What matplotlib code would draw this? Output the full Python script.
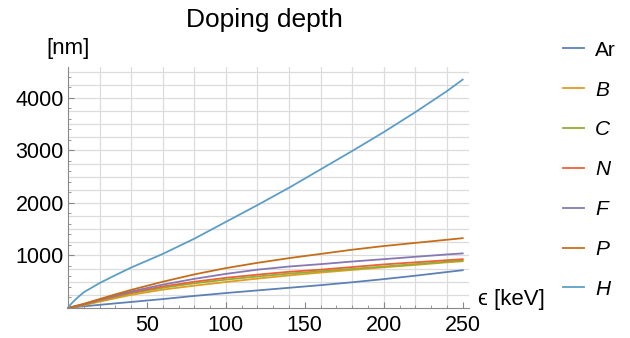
import matplotlib.pyplot as plt
from matplotlib.ticker import MultipleLocator

plt.rcParams['font.family'] = ['Liberation Sans', 'DejaVu Sans']

energy = [0, 2, 5, 10, 20, 30, 40, 60, 80, 100, 120, 140, 160, 180, 200, 220, 240, 250]

# doping depth in nm for each ion
depth_Ar = [0, 8, 18, 32, 60, 88, 115, 170, 230, 285, 335, 385, 435, 490, 550, 615, 685, 720]
depth_B = [0, 10, 26, 52, 120, 185, 250, 350, 425, 495, 560, 620, 675, 725, 775, 820, 870, 890]
depth_C = [0, 12, 31, 62, 140, 210, 280, 385, 470, 540, 600, 655, 700, 745, 790, 835, 880, 905]
depth_N = [0, 13, 33, 66, 150, 225, 295, 410, 500, 575, 635, 690, 730, 780, 830, 870, 910, 930]
depth_F = [0, 14, 36, 72, 160, 240, 315, 445, 555, 650, 730, 790, 835, 885, 930, 975, 1020, 1040]
depth_P = [0, 15, 40, 80, 170, 260, 345, 500, 640, 760, 860, 950, 1030, 1110, 1180, 1240, 1300, 1330]
depth_H = [0, 80, 170, 300, 475, 625, 770, 1030, 1320, 1640, 1960, 2290, 2640, 2990, 3350, 3730, 4130, 4350]

labels = ['Ar', 'B', 'C', 'N', 'F', 'P', 'H']
series = [depth_Ar, depth_B, depth_C, depth_N, depth_F, depth_P, depth_H]
colors = ['#5E81B5', '#E19C24', '#8FB032', '#EB6235', '#8778B3', '#C56E1A', '#5D9EC7']

fig = plt.figure(figsize=(6.3, 3.38), dpi=100)
ax = fig.add_axes([68 / 630, 30 / 338, 401 / 630, 241 / 338])

for ys, lab, c in zip(series, labels, colors):
    ax.plot(energy, ys, color=c, lw=1.3, label=lab, clip_on=False)

ax.set_xlim(0, 254)
ax.set_ylim(0, 4590)

# grid lines like Mathematica's GridLines
for gx in range(20, 260, 20):
    ax.axvline(gx, color='#dcdcdc', lw=0.9, zorder=0)
for gy in range(250, 4750, 250):
    ax.axhline(gy, color='#dcdcdc', lw=0.9, zorder=0)

ax.xaxis.set_major_locator(MultipleLocator(50))
ax.xaxis.set_minor_locator(MultipleLocator(10))
ax.yaxis.set_major_locator(MultipleLocator(1000))
ax.yaxis.set_minor_locator(MultipleLocator(200))
ax.set_xticks([50, 100, 150, 200, 250])
ax.set_yticks([1000, 2000, 3000, 4000])
ax.tick_params(which='both', direction='in', color='#888888', labelsize=15.5)
ax.tick_params(which='major', length=4, width=0.8)
ax.tick_params(which='minor', length=2.5, width=0.6)
ax.tick_params(axis='x', pad=5)
ax.tick_params(axis='y', pad=3)

for s in ['top', 'right']:
    ax.spines[s].set_visible(False)
for s in ['left', 'bottom']:
    ax.spines[s].set_color('#888888')
    ax.spines[s].set_linewidth(0.8)

ax.text(0, 1.075, '[nm]', transform=ax.transAxes, ha='center', va='center', fontsize=16)
ax.text(1.022, 0.035, 'ϵ [keV]', transform=ax.transAxes, ha='left', va='center', fontsize=16)
fig.text(264 / 630, 1 - 27 / 338, 'Doping depth', ha='center', va='baseline', fontsize=19)

leg = fig.legend(loc='upper left', bbox_to_anchor=(544 / 630, 1 - 22 / 338), frameon=False,
                 fontsize=15, handlelength=1.0, handletextpad=0.55, labelspacing=1.0)
for t in leg.get_texts()[1:]:
    t.set_style('italic')

plt.savefig('out.png', dpi=100)
